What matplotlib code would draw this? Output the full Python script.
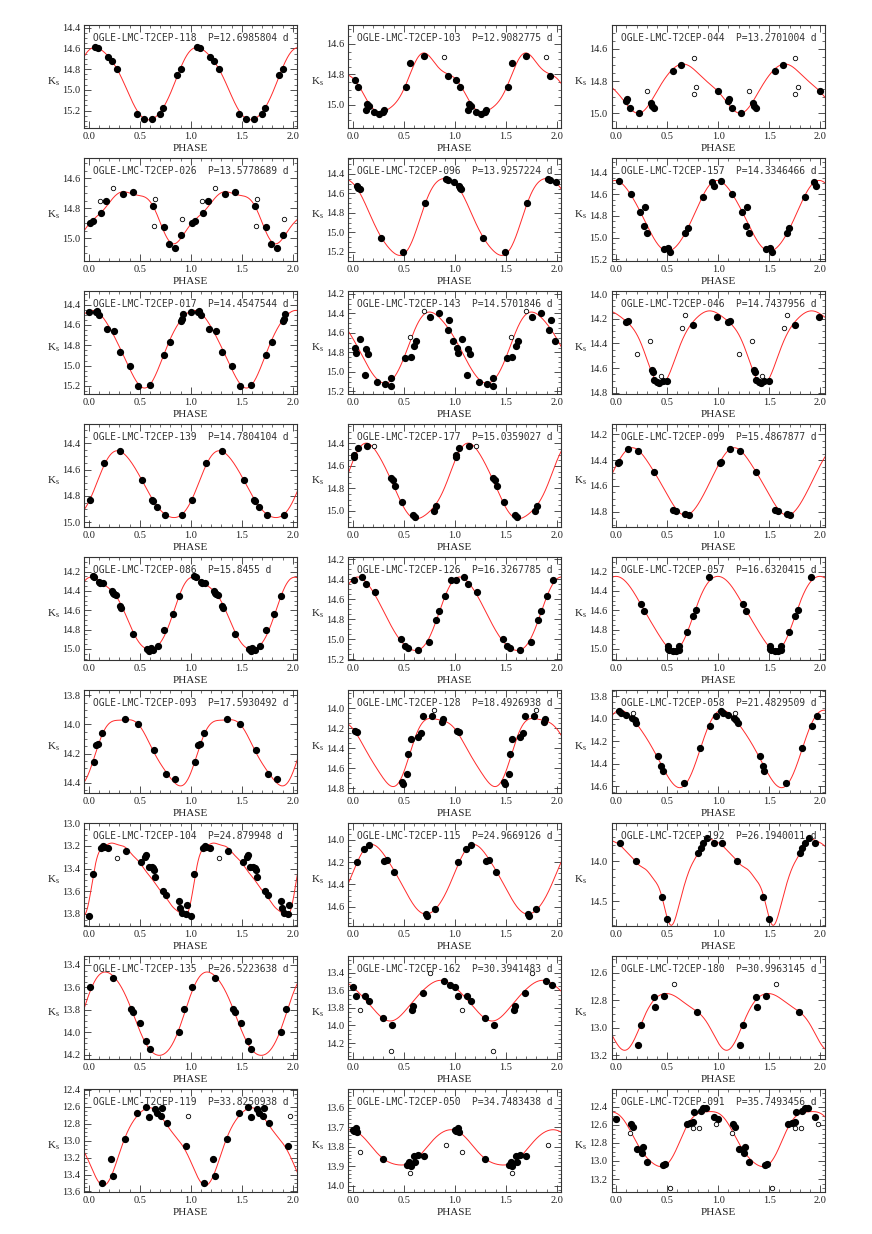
import numpy as np
import matplotlib
matplotlib.use("Agg")
import matplotlib.pyplot as plt
from matplotlib.ticker import MultipleLocator, FormatStrFormatter

plt.rcParams['font.family'] = ['Liberation Serif', 'DejaVu Serif']
plt.rcParams['mathtext.fontset'] = 'custom'
plt.rcParams['mathtext.rm'] = 'Liberation Serif'
plt.rcParams['mathtext.it'] = 'Liberation Serif:italic'

# star ids and periods, read row by row (left to right)
stars = ["118", "103", "044", "026", "096", "157", "017", "143", "046",
         "139", "177", "099", "086", "126", "057", "093", "128", "058",
         "104", "115", "192", "135", "162", "180", "119", "050", "091"]
periods = ["12.6985804", "12.9082775", "13.2701004", "13.5778689", "13.9257224",
           "14.3346466", "14.4547544", "14.5701846", "14.7437956", "14.7804104",
           "15.0359027", "15.4867877", "15.8455", "16.3267785", "16.6320415",
           "17.5930492", "18.4926938", "21.4829509", "24.879948", "24.9669126",
           "26.1940011", "26.5223638", "30.3941483", "30.9963145", "33.8250938",
           "34.7483438", "35.7493456"]

# magnitude range of each panel (top = bright, bottom = faint)
y_top = [14.378, 14.478, 14.453, 14.467, 14.239, 14.268, 14.269, 14.173, 13.978,
         14.256, 14.231, 14.122, 14.052, 14.18, 14.052, 13.766, 13.823, 13.747,
         13.0, 13.85, 13.53, 13.323, 13.21, 12.479, 12.392, 13.507, 12.209]
y_bottom = [15.37, 15.153, 15.093, 15.153, 15.296, 15.218, 15.282, 15.229, 14.811,
            15.038, 15.145, 14.921, 15.117, 15.213, 15.117, 14.471, 14.853, 14.662,
            13.909, 14.777, 14.81, 14.242, 14.386, 13.229, 13.61, 14.033, 13.346]
y_step = [0.2] * 27
y_step[20] = 0.5
y_step[25] = 0.1

# measured points (phase in [0,1), Ks)
phase_pts = [
    [0.059, 0.092, 0.184, 0.223, 0.279, 0.475, 0.541, 0.62, 0.698, 0.731, 0.862, 0.902],
    [0.016, 0.052, 0.126, 0.136, 0.159, 0.207, 0.259, 0.298, 0.308, 0.519, 0.561, 0.697, 0.934],
    [0.098, 0.104, 0.137, 0.221, 0.338, 0.354, 0.374, 0.553, 0.631, 0.998],
    [0.01, 0.04, 0.118, 0.167, 0.331, 0.436, 0.633, 0.738, 0.79, 0.849, 0.908],
    [0.042, 0.055, 0.065, 0.279, 0.489, 0.707, 0.917, 0.93, 0.99],
    [0.026, 0.14, 0.237, 0.27, 0.283, 0.306, 0.465, 0.511, 0.527, 0.676, 0.699, 0.852, 0.937, 0.956],
    [0.0, 0.067, 0.082, 0.103, 0.179, 0.246, 0.303, 0.4, 0.482, 0.595, 0.738, 0.8, 0.908, 0.913, 0.928],
    [0.02, 0.031, 0.071, 0.117, 0.128, 0.148, 0.24, 0.316, 0.372, 0.378, 0.515, 0.566, 0.602,
     0.617, 0.755, 0.847, 0.929, 0.944, 0.98],
    [0.097, 0.117, 0.352, 0.362, 0.372, 0.398, 0.423, 0.454, 0.495, 0.75, 0.985],
    [0.012, 0.149, 0.303, 0.518, 0.621, 0.631, 0.672, 0.749, 0.913],
    [0.01, 0.015, 0.046, 0.138, 0.378, 0.398, 0.418, 0.48, 0.592, 0.612, 0.791, 0.811],
    [0.015, 0.026, 0.112, 0.209, 0.372, 0.556, 0.587, 0.679, 0.709],
    [0.036, 0.051, 0.097, 0.113, 0.138, 0.231, 0.241, 0.251, 0.262, 0.308, 0.318, 0.436, 0.574,
     0.59, 0.605, 0.626, 0.677, 0.738, 0.821, 0.882],
    [0.01, 0.087, 0.128, 0.214, 0.474, 0.51, 0.541, 0.643, 0.745, 0.816, 0.847, 0.908, 0.96],
    [0.24, 0.276, 0.505, 0.51, 0.52, 0.556, 0.587, 0.612, 0.617, 0.694, 0.75, 0.781, 0.908],
    [0.046, 0.072, 0.087, 0.128, 0.354, 0.482, 0.636, 0.754, 0.846],
    [0.02, 0.041, 0.485, 0.49, 0.531, 0.541, 0.566, 0.638, 0.668, 0.684, 0.776, 0.872, 0.888],
    [0.031, 0.051, 0.097, 0.153, 0.179, 0.194, 0.408, 0.439, 0.454, 0.663, 0.821, 0.918, 0.974],
    [0.0, 0.036, 0.123, 0.138, 0.149, 0.19, 0.369, 0.513, 0.554, 0.559, 0.585, 0.615, 0.631,
     0.641, 0.651, 0.728, 0.754, 0.882, 0.892, 0.918, 0.949, 0.964],
    [0.036, 0.112, 0.158, 0.306, 0.337, 0.408, 0.714, 0.724, 0.801],
    [0.036, 0.189, 0.444, 0.5, 0.801, 0.827, 0.852, 0.888, 0.954],
    [0.01, 0.236, 0.41, 0.431, 0.497, 0.559, 0.595, 0.882, 0.938],
    [0.0, 0.031, 0.117, 0.163, 0.296, 0.388, 0.577, 0.587, 0.689, 0.893, 0.949],
    [0.214, 0.245, 0.372, 0.378, 0.469, 0.796],
    [0.13, 0.221, 0.24, 0.354, 0.472, 0.564, 0.59, 0.651, 0.667, 0.708, 0.718, 0.769, 0.949],
    [0.0, 0.015, 0.031, 0.041, 0.296, 0.531, 0.551, 0.566, 0.602, 0.612, 0.643, 0.694],
    [0.0, 0.143, 0.163, 0.204, 0.25, 0.265, 0.306, 0.459, 0.48, 0.689, 0.724, 0.75, 0.765,
     0.827, 0.852, 0.883, 0.954],
]
mag_pts = [
    [14.584, 14.597, 14.68, 14.719, 14.80, 15.236, 15.277, 15.277, 15.236, 15.178, 14.857, 14.802],
    [14.836, 14.884, 15.033, 14.991, 15.004, 15.046, 15.061, 15.046, 15.033, 14.88, 14.722, 14.679, 14.81],
    [14.921, 14.913, 14.969, 15.0, 14.938, 14.955, 14.965, 14.735, 14.70, 14.859],
    [14.90, 14.885, 14.829, 14.749, 14.704, 14.693, 14.784, 14.922, 15.04, 15.062, 14.977],
    [14.52, 14.54, 14.554, 15.06, 15.203, 14.70, 14.451, 14.462, 14.482],
    [14.474, 14.6, 14.763, 14.892, 14.714, 14.954, 15.105, 15.095, 15.129, 14.954, 14.914, 14.628,
     14.486, 14.52],
    [14.475, 14.469, 14.462, 14.505, 14.64, 14.662, 14.869, 15.0, 15.197, 15.187, 14.895, 14.764,
     14.557, 14.538, 14.492],
    [14.754, 14.809, 14.662, 15.034, 14.761, 14.815, 15.106, 15.123, 15.062, 15.14, 14.856, 14.846,
     14.737, 14.679, 14.436, 14.395, 14.573, 14.463, 14.686],
    [14.229, 14.216, 14.612, 14.628, 14.695, 14.714, 14.722, 14.70, 14.70, 14.25, 14.189],
    [14.828, 14.549, 14.458, 14.681, 14.833, 14.841, 14.881, 14.942, 14.942],
    [14.518, 14.503, 14.444, 14.424, 14.71, 14.725, 14.775, 14.923, 15.036, 15.056, 15.0, 14.956],
    [14.425, 14.412, 14.316, 14.327, 14.49, 14.787, 14.795, 14.821, 14.826],
    [14.245, 14.251, 14.303, 14.32, 14.32, 14.396, 14.416, 14.433, 14.444, 14.56, 14.578, 14.845,
     15.0, 15.024, 14.99, 15.007, 14.973, 14.808, 14.636, 14.45],
    [14.407, 14.373, 14.447, 14.533, 15.0, 15.073, 15.09, 15.113, 15.027, 14.813, 14.717, 14.573, 14.407],
    [14.536, 14.612, 15.0, 14.972, 15.014, 15.024, 15.024, 15.007, 14.972, 14.825, 14.663, 14.595, 14.251],
    [14.256, 14.138, 14.135, 14.055, 13.96, 14.0, 14.172, 14.336, 14.375],
    [14.23, 14.24, 14.74, 14.763, 14.657, 14.463, 14.313, 14.29, 14.25, 14.083, 14.083, 14.14, 14.113],
    [13.93, 13.948, 13.969, 13.993, 14.007, 14.034, 14.333, 14.422, 14.467, 14.57, 14.259, 14.064, 13.975],
    [13.815, 13.45, 13.215, 13.197, 13.212, 13.215, 13.241, 13.344, 13.294, 13.279, 13.382, 13.382,
     13.397, 13.412, 13.47, 13.597, 13.632, 13.685, 13.75, 13.794, 13.803, 13.721],
    [14.201, 14.084, 14.045, 14.189, 14.18, 14.291, 14.669, 14.681, 14.624],
    [13.771, 14.0, 14.45, 14.72, 13.904, 13.833, 13.771, 13.717, 13.771],
    [13.6, 13.519, 13.791, 13.821, 13.919, 14.081, 14.147, 14.0, 13.797],
    [13.563, 13.658, 13.658, 13.726, 13.916, 13.991, 13.821, 13.779, 13.627, 13.495, 13.536],
    [13.127, 12.982, 12.777, 12.849, 12.765, 12.881],
    [13.5, 13.214, 13.42, 12.977, 12.677, 12.598, 12.716, 12.621, 12.669, 12.708, 12.61, 12.787, 13.064],
    [13.716, 13.721, 13.707, 13.724, 13.862, 13.893, 13.876, 13.9, 13.848, 13.876, 13.845, 13.848],
    [12.54, 12.595, 12.621, 12.871, 12.908, 12.842, 13.011, 13.048, 13.037, 12.595, 12.577, 12.569,
     12.459, 12.448, 12.418, 12.411, 12.51],
]

# points left out of the fit (open circles)
phase_open = [[], [0.898], [0.299, 0.758, 0.758, 0.787], [0.108, 0.239, 0.649, 0.643, 0.915],
              [], [], [], [0.556, 0.699], [0.204, 0.332, 0.434, 0.643, 0.673],
              [], [0.204], [], [], [], [], [], [0.796], [0.163],
              [0.277], [], [], [], [0.066, 0.372, 0.755], [0.566],
              [0.974], [0.066, 0.561, 0.918], [0.138, 0.53, 0.75, 0.811, 0.98]]
mag_open = [[], [14.683], [14.859, 14.654, 14.88, 14.834], [14.749, 14.667, 14.74, 14.915, 14.871],
            [], [], [], [14.641, 14.371], [14.485, 14.383, 14.66, 14.275, 14.172],
            [], [14.424], [], [], [], [], [], [14.017], [13.945],
            [13.303], [], [], [], [13.828, 14.295, 13.40], [12.68],
            [12.71], [13.828, 13.934, 13.793], [12.694, 13.30, 12.639, 12.639, 12.595]]

# fitted light curve, read at equally spaced phases over one cycle
curve_mags = [
    [14.61, 14.605, 14.69, 14.84, 15.06, 15.24, 15.28, 15.225, 15.02, 14.80],
    [14.825, 14.92, 15.03, 15.04, 15.0, 14.9, 14.73, 14.666, 14.716, 14.79],
    [14.86, 14.948, 14.996, 14.963, 14.865, 14.76, 14.706, 14.70, 14.747, 14.813],
    [14.911, 14.844, 14.755, 14.704, 14.695, 14.711, 14.767, 14.878, 15.044, 14.99],
    [14.486, 14.667, 14.889, 15.077, 15.225, 15.20, 15.06, 14.718, 14.513, 14.451],
    [14.475, 14.545, 14.698, 14.883, 15.052, 15.123, 15.068, 14.914, 14.714, 14.53],
    [14.465, 14.49, 14.613, 14.826, 15.023, 15.2, 15.19, 14.974, 14.744, 14.548],
    [14.651, 14.856, 15.027, 15.113, 15.062, 14.856, 14.583, 14.412, 14.395, 14.51],
    [14.16, 14.22, 14.33, 14.52, 14.72, 14.68, 14.47, 14.29, 14.18, 14.14],
    [14.848, 14.653, 14.501, 14.458, 14.527, 14.653, 14.792, 14.906, 14.962, 14.944],
    [14.55, 14.415, 14.43, 14.592, 14.77, 14.976, 15.059, 15.05, 14.95, 14.8],
    [14.451, 14.314, 14.322, 14.4, 14.528, 14.671, 14.787, 14.826, 14.748, 14.593],
    [14.251, 14.303, 14.372, 14.509, 14.749, 14.938, 15.007, 14.938, 14.705, 14.423],
    [14.39, 14.407, 14.523, 14.723, 14.907, 15.057, 15.107, 15.073, 14.857, 14.59],
    [14.25, 14.32, 14.45, 14.66, 14.818, 14.972, 15.014, 14.8, 14.543, 14.303],
    [14.347, 14.108, 14.005, 13.964, 13.967, 14.017, 14.131, 14.268, 14.37, 14.409],
    [14.223, 14.357, 14.557, 14.707, 14.773, 14.657, 14.307, 14.14, 14.107, 14.123],
    [13.924, 13.954, 14.043, 14.176, 14.339, 14.502, 14.606, 14.561, 14.324, 14.087],
    [13.70, 13.42, 13.26, 13.20, 13.18, 13.18, 13.19, 13.21, 13.25, 13.30,
     13.35, 13.41, 13.47, 13.53, 13.59, 13.65, 13.71, 13.76, 13.80, 13.81],
    [14.3, 14.09, 14.051, 14.12, 14.27, 14.435, 14.585, 14.669, 14.63, 14.495],
    [13.77, 13.82, 13.88, 13.95, 14.02, 14.07, 14.12, 14.19, 14.29, 14.45,
     14.71, 14.79, 14.62, 14.38, 14.17, 14.02, 13.91, 13.79, 13.73, 13.74],
    [13.658, 13.495, 13.471, 13.569, 13.761, 13.984, 14.161, 14.206, 14.132, 13.939],
    [13.563, 13.677, 13.809, 13.923, 13.942, 13.847, 13.715, 13.582, 13.506, 13.487],
    [13.115, 13.152, 13.055, 12.873, 12.777, 12.752, 12.777, 12.837, 12.885, 12.97],
    [13.22, 13.52, 13.45, 13.15, 12.85, 12.66, 12.62, 12.70, 12.86, 13.05],
    [13.716, 13.75, 13.81, 13.862, 13.888, 13.893, 13.871, 13.819, 13.759, 13.721],
    [12.466, 12.595, 12.798, 12.963, 13.05, 13.04, 12.834, 12.613, 12.466, 12.466],
]


def fourier_curve(samples, grid):
    # least-squares Fourier series through the read samples
    y = np.asarray(samples)
    n = len(y)
    order = 3 if n <= 10 else 7
    ph = np.arange(n) / n

    def design(p):
        cols = [np.ones_like(p)]
        for k in range(1, order + 1):
            cols.append(np.cos(2 * np.pi * k * p))
            cols.append(np.sin(2 * np.pi * k * p))
        return np.column_stack(cols)

    coef, *_ = np.linalg.lstsq(design(ph), y, rcond=None)
    return design(grid) @ coef


W, H = 872, 1234
fig = plt.figure(figsize=(W / 100, H / 100), dpi=100)

col_left = [84.3, 348.3, 611.7]
ax_w, ax_h = 213, 103
row_top0, row_pitch = 25.3, 133

grid = np.linspace(-0.05, 2.05, 600)
frame_col = '#333333'
text_col = '#222222'

for i, sid in enumerate(stars):
    r, c = divmod(i, 3)
    top = row_top0 + r * row_pitch
    ax = fig.add_axes([col_left[c] / W, 1 - (top + ax_h) / H, ax_w / W, ax_h / H])

    ax.plot(grid, fourier_curve(curve_mags[i], grid), color='#ff2a2a', lw=0.7, zorder=2)

    ph = np.asarray(phase_pts[i])
    mg = np.asarray(mag_pts[i])
    ax.plot(np.r_[ph, ph + 1], np.r_[mg, mg], 'o', ms=4.2, color='black', zorder=3)
    if phase_open[i]:
        po = np.asarray(phase_open[i])
        mo = np.asarray(mag_open[i])
        ax.plot(np.r_[po, po + 1], np.r_[mo, mo], 'o', ms=3.2, mfc='white',
                mec='black', mew=0.6, zorder=3)

    ax.set_xlim(-0.045, 2.045)
    ax.set_ylim(y_bottom[i], y_top[i])

    ax.xaxis.set_major_locator(MultipleLocator(0.5))
    ax.xaxis.set_minor_locator(MultipleLocator(0.1))
    ax.yaxis.set_major_locator(MultipleLocator(y_step[i]))
    ax.yaxis.set_minor_locator(MultipleLocator(y_step[i] / (4 if y_step[i] == 0.2 else 5)))
    ax.xaxis.set_major_formatter(FormatStrFormatter('%.1f'))
    ax.yaxis.set_major_formatter(FormatStrFormatter('%.1f'))
    ax.tick_params(which='both', direction='in', top=True, right=True,
                   labelsize=7.5, colors=frame_col, labelcolor=text_col, pad=3)
    ax.tick_params(which='major', length=5, width=0.6)
    ax.tick_params(which='minor', length=2.5, width=0.5)
    for sp in ax.spines.values():
        sp.set_color(frame_col)
        sp.set_linewidth(0.8)

    ax.set_xlabel('PHASE', fontsize=8, labelpad=2, color=text_col)
    ax.text(-0.145, 0.45, r'$\mathrm{K_s}$', transform=ax.transAxes, fontsize=8,
            ha='center', va='center', color=text_col)
    ax.text(0.042, 0.875, f'OGLE-LMC-T2CEP-{sid}  P={periods[i]} d',
            transform=ax.transAxes, fontsize=6.95, family='DejaVu Sans Mono',
            ha='left', va='center', color='#333333')

fig.savefig('out.png', dpi=100)
